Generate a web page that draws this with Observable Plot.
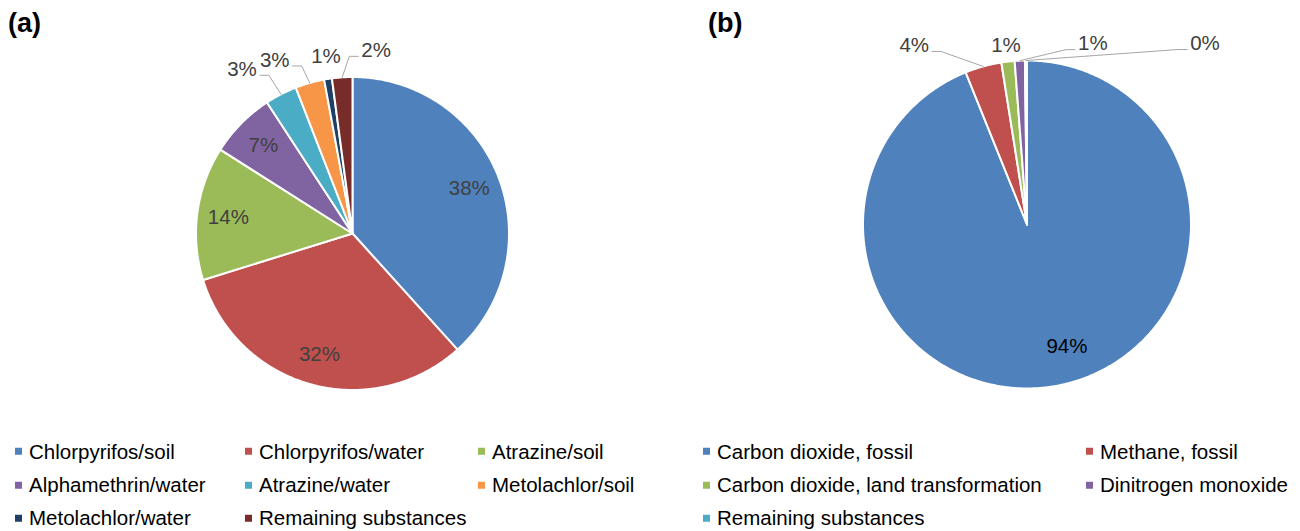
<!DOCTYPE html>
<html>
<head>
<meta charset="utf-8">
<script src="https://cdn.jsdelivr.net/npm/d3@7"></script>
<script src="https://cdn.jsdelivr.net/npm/@observablehq/plot@0.6"></script>
<style>
  html, body { margin: 0; background: #fff; }
  #page { position: relative; width: 1300px; height: 531px; overflow: hidden;
          font-family: "Liberation Sans", Arial, sans-serif; }
  .panel { position: absolute; top: 0; }
  .tag { position: absolute; top: 10px; font-weight: bold; font-size: 27px; line-height: 1; color: #000; }
  .item { position: absolute; display: flex; align-items: center; white-space: nowrap;
          font-size: 20.5px; line-height: 1; color: #000; transform: translateY(-50%); }
  .sw { width: 7px; height: 7px; margin-right: 7px; flex: none; }
</style>
</head>
<body>
<div id="page"></div>
<script>
// (a) substance / compartment shares (%)
const substancesA = [
  "Chlorpyrifos/soil", "Chlorpyrifos/water", "Atrazine/soil", "Alphamethrin/water",
  "Atrazine/water", "Metolachlor/soil", "Metolachlor/water", "Remaining substances"
];
const sharesA = [38.3, 31.9, 13.8, 6.8, 3.3, 3.0, 0.8, 2.1];
const coloursA = ["#4F81BD", "#C0504D", "#9BBB59", "#8064A2", "#4BACC6", "#F79646", "#1F3F66", "#772C2A"];

// (b) greenhouse gas shares (%)
const substancesB = [
  "Carbon dioxide, fossil", "Methane, fossil", "Carbon dioxide, land transformation",
  "Dinitrogen monoxide", "Remaining substances"
];
const sharesB = [93.9, 3.6, 1.3, 1.0, 0.2];
const coloursB = ["#4F81BD", "#C0504D", "#9BBB59", "#8064A2", "#4BACC6"];

const FONT = '"Liberation Sans", Arial, sans-serif';
const FONT_SIZE = 20.5;

// label placement: offsets in px from the slice's rim (outside) or inner anchor
const calloutsA = [
  {name: "Atrazine/water",       outside: true, dx: -39, dy: -25, leader: true},
  {name: "Metolachlor/soil",     outside: true, dx: -35, dy: -23, leader: true},
  {name: "Metolachlor/water",    outside: true, dx: -2,  dy: -22, leader: false},
  {name: "Remaining substances", outside: true, dx: 34,  dy: -27, leader: true}
];
const calloutsB = [
  {name: "Carbon dioxide, fossil",              outside: false, dx: 15, dy: -7},
  {name: "Methane, fossil",                     outside: true, dx: -69, dy: -21, leader: true},
  {name: "Carbon dioxide, land transformation", outside: true, dx: -2,  dy: -16, leader: false},
  {name: "Dinitrogen monoxide",                 outside: true, dx: 73,  dy: -17, leader: true},
  {name: "Remaining substances",                outside: true, dx: 179, dy: -17, leader: true}
];

function piePanel(names, shares, colours, layout, callouts, insideFill) {
  const {width, height, cx, cy, r} = layout;
  const tau = 2 * Math.PI;
  const total = d3.sum(shares);
  let acc = 0;
  const slices = names.map((name, i) => {
    const a0 = acc / total * tau;
    acc += shares[i];
    const a1 = acc / total * tau;
    return {name, a0, a1, mid: (a0 + a1) / 2, label: Math.round(shares[i] / total * 100) + "%"};
  });
  // angle measured clockwise from 12 o'clock, radius in units of the pie radius
  const polar = (a, k) => ({x: k * Math.sin(a), y: k * Math.cos(a)});

  const wedges = slices.flatMap(s => {
    const n = Math.max(2, Math.ceil((s.a1 - s.a0) / (Math.PI / 360)));
    const pts = [{name: s.name, x: 0, y: 0}];
    for (let j = 0; j <= n; j++) pts.push({name: s.name, ...polar(s.a0 + (s.a1 - s.a0) * j / n, 1)});
    return pts;
  });

  const ctx = document.createElement("canvas").getContext("2d");
  ctx.font = `${FONT_SIZE}px ${FONT}`;
  const byName = new Map(callouts.map(c => [c.name, c]));
  const inside = [], outside = [], leaders = [];
  for (const s of slices) {
    const c = byName.get(s.name) || {};
    const base = polar(s.mid, c.outside ? 1 : 0.8);
    const lx = base.x + (c.dx || 0) / r;
    const ly = base.y - (c.dy || 0) / r;
    (c.outside ? outside : inside).push({label: s.label, x: lx, y: ly});
    if (c.leader) {
      const half = ctx.measureText(s.label).width / 2 + 3;
      const side = lx > base.x ? -1 : 1;
      const sx = lx + side * half / r, sy = ly - 6 / r;
      leaders.push(
        {name: s.name, x: sx, y: sy},
        {name: s.name, x: sx + side * 9 / r, y: sy},
        {name: s.name, ...base}
      );
    }
  }

  return Plot.plot({
    width, height, margin: 0,
    style: {background: "transparent", overflow: "visible"},
    x: {domain: [-cx / r, (width - cx) / r], range: [0, width], axis: null},
    y: {domain: [-(height - cy) / r, cy / r], range: [height, 0], axis: null},
    color: {domain: names, range: colours},
    marks: [
      Plot.line(wedges, {x: "x", y: "y", z: "name", fill: "name", stroke: "#fff",
                         strokeWidth: 2, strokeLinejoin: "round", curve: "linear-closed"}),
      Plot.line(leaders, {x: "x", y: "y", z: "name", stroke: "#A6A6A6", strokeWidth: 1}),
      Plot.text(inside, {x: "x", y: "y", text: "label", fill: insideFill,
                         fontSize: FONT_SIZE, fontFamily: FONT}),
      Plot.text(outside, {x: "x", y: "y", text: "label", fill: "#404040",
                          fontSize: FONT_SIZE, fontFamily: FONT})
    ]
  });
}

function legend(page, names, colours, colX, rowY, nCols) {
  names.forEach((name, i) => {
    const item = document.createElement("div");
    item.className = "item";
    item.style.left = colX[i % nCols] + "px";
    item.style.top = rowY[Math.floor(i / nCols)] + "px";
    const sw = document.createElement("span");
    sw.className = "sw";
    sw.style.background = colours[i];
    const tx = document.createElement("span");
    tx.textContent = name;
    item.append(sw, tx);
    page.append(item);
  });
}

const page = document.getElementById("page");

const panelA = piePanel(substancesA, sharesA, coloursA,
  {width: 650, height: 420, cx: 352, cy: 233, r: 156.5}, calloutsA, "#404040");
panelA.classList.add("panel");
panelA.style.left = "0px";

const panelB = piePanel(substancesB, sharesB, coloursB,
  {width: 650, height: 420, cx: 376.5, cy: 224, r: 164}, calloutsB, "#000");
panelB.classList.add("panel");
panelB.style.left = "650px";

page.append(panelA, panelB);

const tagA = document.createElement("div");
tagA.className = "tag"; tagA.style.left = "8px"; tagA.textContent = "(a)";
const tagB = document.createElement("div");
tagB.className = "tag"; tagB.style.left = "708px"; tagB.textContent = "(b)";
page.append(tagA, tagB);

const legendRows = [451.5, 485, 518];
legend(page, substancesA, coloursA, [15, 245, 478], legendRows, 3);
legend(page, substancesB, coloursB, [703, 1086], legendRows, 2);
</script>
</body>
</html>
